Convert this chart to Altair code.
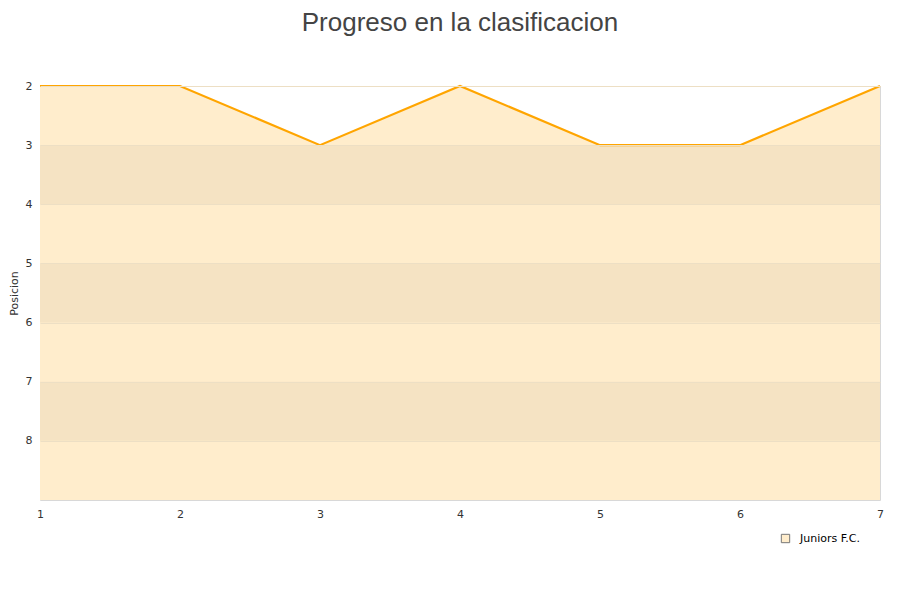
import altair as alt
import pandas as pd

jornadas = [1, 2, 3, 4, 5, 6, 7]
posiciones = [2, 2, 3, 2, 3, 3, 2]
equipo = "Juniors F.C."
band_starts = [3, 5, 7]
y_ticks = [2, 3, 4, 5, 6, 7, 8]

df = pd.DataFrame({"Jornada": jornadas, "Posicion": posiciones, "Equipo": [equipo] * len(jornadas)})
bands = pd.DataFrame({"y0": band_starts, "y1": [b + 1 for b in band_starts]})

xscale = alt.Scale(domain=[1, 7], nice=False, zero=False)
yscale = alt.Scale(domain=[2, 9], reverse=True, nice=False, zero=False)

area = alt.Chart(df).mark_area(opacity=1).encode(
    x=alt.X("Jornada:Q", scale=xscale,
            axis=alt.Axis(values=jornadas, format="d", title=None, ticks=False, domain=False,
                          grid=False, labelFontSize=11, labelColor="#333", labelPadding=8,
                          labelFlush=False, labelFont="DejaVu Sans")),
    y=alt.Y("Posicion:Q", scale=yscale,
            axis=alt.Axis(values=y_ticks, format="d", title="Posicion", ticks=False, domain=False,
                          grid=True, gridColor="#EDDFC4", labelFontSize=11, labelColor="#333",
                          labelPadding=8, titleFontSize=11, titleFontWeight="normal",
                          titleColor="#333", titlePadding=6, labelFont="DejaVu Sans",
                          titleFont="DejaVu Sans", zindex=1)),
    y2=alt.datum(9),
    fill=alt.Fill("Equipo:N", scale=alt.Scale(range=["#FFEDCC"]),
                  legend=alt.Legend(title=None, orient="none", legendX=740, legendY=447,
                                    symbolType="square", symbolSize=70, symbolOpacity=1,
                                    symbolStrokeColor="#777", symbolStrokeWidth=1,
                                    labelFontSize=11, labelColor="#000", labelOffset=9,
                                    labelFont="DejaVu Sans")),
)

band_layer = alt.Chart(bands).mark_rect(color="#F5E3C3").encode(
    x=alt.value(0), x2=alt.value(840),
    y=alt.Y("y0:Q", scale=yscale), y2="y1:Q",
)

line = alt.Chart(df).mark_line(color="#FFA500", strokeWidth=2.2).encode(
    x=alt.X("Jornada:Q", scale=xscale),
    y=alt.Y("Posicion:Q", scale=yscale),
)

chart = alt.layer(area, band_layer, line).properties(
    width=840, height=414,
    title=alt.TitleParams("Progreso en la clasificacion", fontSize=26, fontWeight="normal",
                          color="#444", font="Liberation Sans", anchor="middle", offset=44),
    autosize=alt.AutoSizeParams(type="none"),
    padding={"left": 32, "top": 78, "right": 12, "bottom": 80},
).configure_view(stroke="#D8D8D8", strokeWidth=1)

chart.save("out.html", embed_options={"renderer": "svg", "actions": False})
